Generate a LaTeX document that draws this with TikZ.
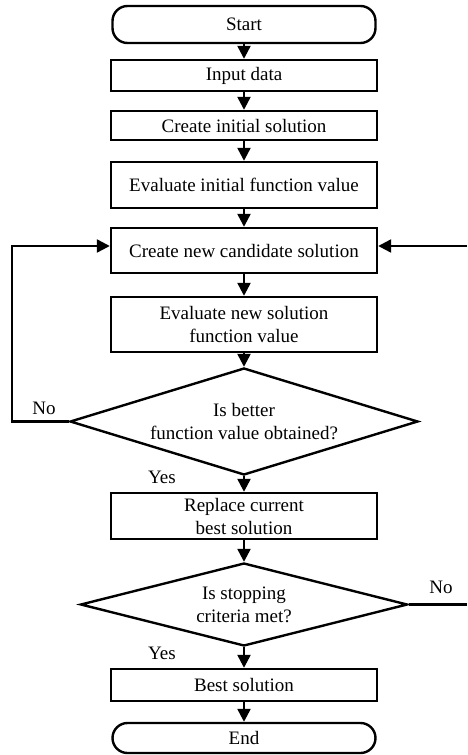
\documentclass[tikz,border=0pt]{standalone}
\usepackage{fontspec}
\setmainfont{Liberation Serif}
\usetikzlibrary{shapes.geometric,arrows.meta}
\begin{document}
\begin{tikzpicture}[x=1pt,y=-1pt,
 every node/.style={font=\fontsize{19}{23}\selectfont},
 box/.style={draw,line width=2.4pt,minimum width=266pt,inner sep=0pt,align=center},
 term/.style={box,rounded corners=15pt,minimum width=263pt},
 dec/.style={draw,diamond,line width=2.4pt,inner sep=0pt,align=center},
 arr/.style={line width=2.4pt,-{Triangle[length=13pt,width=13pt]}},
 lbl/.style={inner sep=0pt}]
\useasboundingbox (0,0) rectangle (467,755);
\node[term,minimum height=37pt] (start) at (244,24.5) {Start};
\node[box,minimum height=31pt] (input) at (244,75.5) {Input data};
\node[box,minimum height=29pt] (init) at (244,125.5) {Create initial solution};
\node[box,minimum height=46pt] (evalinit) at (244,185) {Evaluate initial function value};
\node[box,minimum height=45pt] (cand) at (244,250.5) {Create new candidate solution};
\node[box,minimum height=55pt] (evalnew) at (244,324.5) {Evaluate new solution\\function value};
\node[dec,aspect=3.25,minimum width=348pt,minimum height=107pt] (d1) at (244,421.5) {Is better\\function value obtained?};
\node[box,minimum height=46pt] (replace) at (244,516) {Replace current\\best solution};
\node[dec,aspect=3.9,minimum width=327pt,minimum height=83pt] (d2) at (244,604.5) {Is stopping\\criteria met?};
\node[box,minimum height=32pt] (best) at (244,685) {Best solution};
\node[term,minimum height=30pt] (end) at (244,738) {End};
\node[lbl] (no1) at (44,408) {No};
\node[lbl] (yes1) at (162,477) {Yes};
\node[lbl] (no2) at (441,587) {No};
\node[lbl] (yes2) at (162,653) {Yes};
\draw[arr] (start) -- (input);
\draw[arr] (input) -- (init);
\draw[arr] (init) -- (evalinit);
\draw[arr] (evalinit) -- (cand);
\draw[arr] (cand) -- (evalnew);
\draw[arr] (evalnew) -- (d1);
\draw[arr] (d1) -- (replace);
\draw[arr] (replace) -- (d2);
\draw[arr] (d2) -- (best);
\draw[arr] (best) -- (end);
\coordinate (lb) at (12,421.5);
\coordinate (lt) at (12,246);
\draw[arr] (d1.west) -- (lb) -- (lt) -- (cand.west |- lt);
\coordinate (rt) at (467,246);
\draw[arr] (rt) -- (cand.east |- rt);
\coordinate (rb) at (467,604.5);
\draw[line width=2.4pt] (d2.east) -- (rb);
\end{tikzpicture}
\end{document}
